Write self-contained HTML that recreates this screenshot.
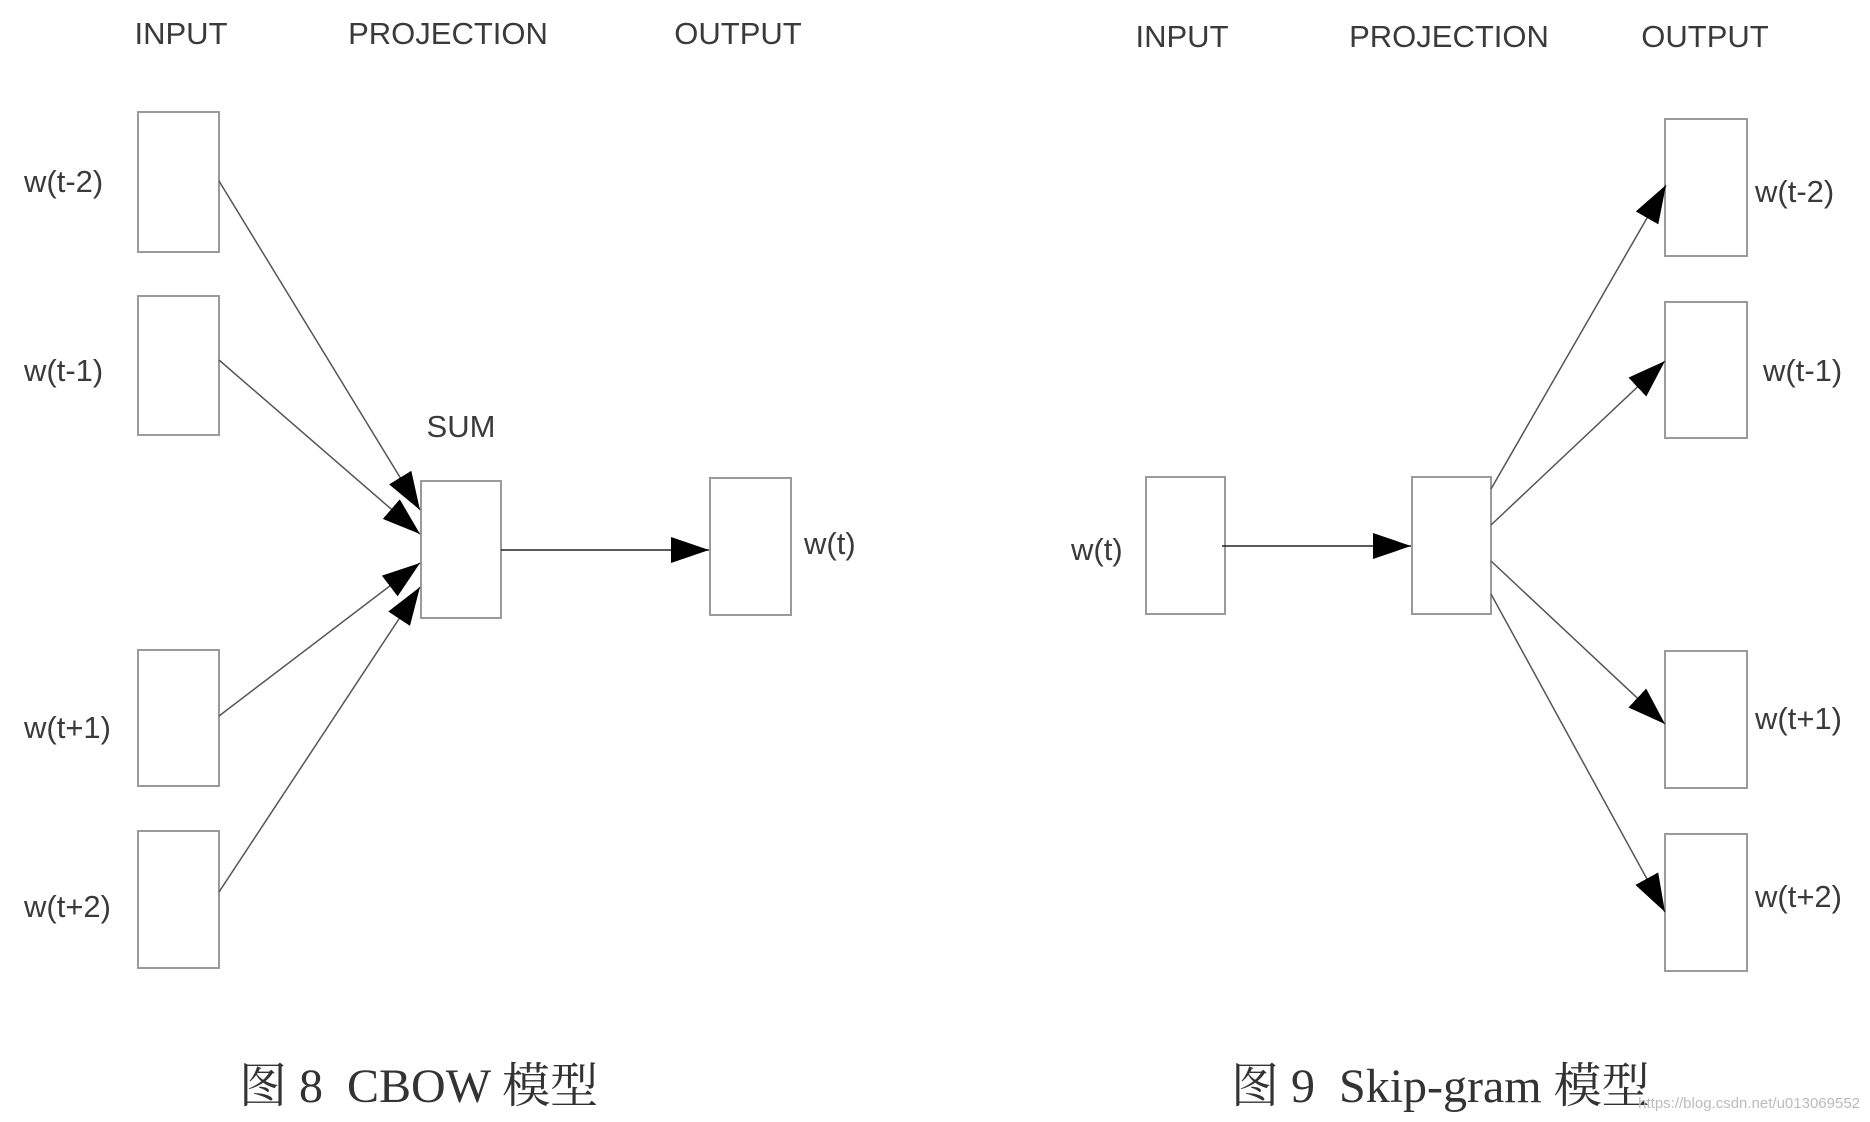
<!DOCTYPE html>
<html><head><meta charset="utf-8"><style>
html,body{margin:0;padding:0;background:#fff;}
svg{display:block;}
text{font-family:"Liberation Sans",Arial,sans-serif;fill:#3a3a3a;}
.h{font-size:31px;}
.l{font-size:31px;}
.cap{font-family:"Liberation Serif","Noto Serif CJK SC",serif;font-size:48px;fill:#333;}
</style></head><body>
<svg width="1870" height="1122" viewBox="0 0 1870 1122" xmlns="http://www.w3.org/2000/svg">
<defs>
<marker id="a" markerUnits="userSpaceOnUse" markerWidth="40" markerHeight="26" refX="38" refY="13" orient="auto">
<path d="M0,0 L38,13 L0,26 Z" fill="#000"/>
</marker>
</defs>
<g fill="#fff" stroke="#9a9a9a" stroke-width="2">
<rect x="138" y="112" width="81" height="140"/>
<rect x="138" y="296" width="81" height="139"/>
<rect x="138" y="650" width="81" height="136"/>
<rect x="138" y="831" width="81" height="137"/>
<rect x="421" y="481" width="80" height="137"/>
<rect x="710" y="478" width="81" height="137"/>
<rect x="1146" y="477" width="79" height="137"/>
<rect x="1412" y="477" width="79" height="137"/>
<rect x="1665" y="119" width="82" height="137"/>
<rect x="1665" y="302" width="82" height="136"/>
<rect x="1665" y="651" width="82" height="137"/>
<rect x="1665" y="834" width="82" height="137"/>
</g>
<g stroke="#555" stroke-width="1.5" fill="none" marker-end="url(#a)">
<line x1="219" y1="181" x2="420" y2="510"/>
<line x1="219" y1="360" x2="420" y2="534"/>
<line x1="219" y1="716" x2="420" y2="563"/>
<line x1="219" y1="892" x2="420" y2="587"/>
<line x1="501" y1="550" x2="709" y2="550" stroke="#222"/>
<line x1="1222" y1="546" x2="1411" y2="546" stroke="#222"/>
<line x1="1491" y1="489" x2="1666" y2="185"/>
<line x1="1491" y1="525" x2="1665" y2="361"/>
<line x1="1491" y1="561" x2="1665" y2="724"/>
<line x1="1491" y1="594" x2="1665" y2="912"/>
</g>
<g class="h" text-anchor="middle">
<text x="181" y="44">INPUT</text>
<text x="448" y="44">PROJECTION</text>
<text x="738" y="44">OUTPUT</text>
<text x="1182" y="47">INPUT</text>
<text x="1449" y="47">PROJECTION</text>
<text x="1705" y="47">OUTPUT</text>
<text x="461" y="437">SUM</text>
</g>
<g class="l">
<text x="24" y="192">w(t-2)</text>
<text x="24" y="381">w(t-1)</text>
<text x="24" y="738">w(t+1)</text>
<text x="24" y="917">w(t+2)</text>
<text x="804" y="554">w(t)</text>
<text x="1071" y="560">w(t)</text>
<text x="1755" y="202">w(t-2)</text>
<text x="1763" y="381">w(t-1)</text>
<text x="1755" y="729">w(t+1)</text>
<text x="1755" y="907">w(t+2)</text>
</g>
<text class="cap" x="239" y="1102" xml:space="preserve">图 8  CBOW 模型</text>
<text class="cap" x="1231" y="1102" xml:space="preserve">图 9  Skip-gram 模型</text>
<text x="1860" y="1108" text-anchor="end" style="font-size:15px;fill:#bbb;">https://blog.csdn.net/u013069552</text>
</svg>
</body></html>
